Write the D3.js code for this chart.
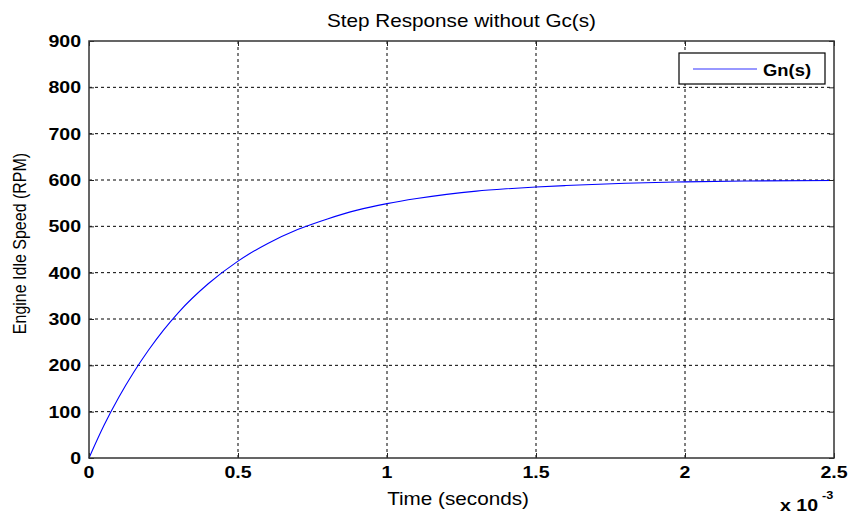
<!DOCTYPE html>
<html>
<head>
<meta charset="utf-8">
<script src="https://cdn.jsdelivr.net/npm/d3@7"></script>
<style>
  body { margin: 0; background: #fff; }
  text { font-family: "Liberation Sans", Arial, sans-serif; fill: #000; }
  .grid line { stroke: #000; stroke-width: 1; stroke-dasharray: 3,3; }
</style>
</head>
<body>
<script>
// size of the picture and of the plot box
var width = 850
var height = 515
var margin = { top: 41, left: 89, right: 16, bottom: 57 }

// time in units of 1e-3 s, speed in RPM
const timeMs = [0, 0.05, 0.1, 0.15, 0.2, 0.25, 0.3, 0.4, 0.5, 0.6, 0.7, 0.8, 0.9, 1.0,
                1.1, 1.2, 1.3, 1.4, 1.5, 1.6, 1.8, 2.0, 2.2, 2.5]
const speedRpm = [0, 70, 131, 185, 233, 276, 314, 376, 425, 463, 493, 516, 535, 549,
                  560, 569, 576, 581, 585, 588, 593, 596, 598, 599]
const xTicks = [0, 0.5, 1, 1.5, 2, 2.5]
const yTicks = [0, 100, 200, 300, 400, 500, 600, 700, 800, 900]
const seriesName = "Gn(s)"

var stretch = 1.15   // the source picture is a bit wider than tall

var svg = d3.select("body").append("svg")
    .attr("width", width)
    .attr("height", height);

var xScale = d3.scaleLinear().domain([0, 2.5]).range([margin.left, width - margin.right]);
var yScale = d3.scaleLinear().domain([0, 900]).range([height - margin.bottom, margin.top]);

function addText(x, y, str, size, weight, anchor) {
    return svg.append("text")
        .attr("transform", "translate(" + x + "," + y + ") scale(" + stretch + ",1)")
        .attr("text-anchor", anchor || "middle")
        .style("font-size", size + "px")
        .style("font-weight", weight || "normal")
        .text(str);
}

function renderGrid() {
    var g = svg.append("g").attr("class", "grid");
    g.selectAll("line.gx")
        .data(xTicks.slice(1, -1))
        .enter().append("line")
        .attr("x1", d => xScale(d)).attr("x2", d => xScale(d))
        .attr("y1", yScale(0)).attr("y2", yScale(900));
    g.selectAll("line.gy")
        .data(yTicks.slice(1, -1))
        .enter().append("line")
        .attr("x1", xScale(0)).attr("x2", xScale(2.5))
        .attr("y1", d => yScale(d)).attr("y2", d => yScale(d));
}

function renderAxes() {
    // inside ticks, matlab style, on all four sides
    var tl = 5;
    var axes = [
        { ax: d3.axisBottom(xScale).tickValues(xTicks), tr: "translate(0," + yScale(0) + ")" },
        { ax: d3.axisTop(xScale).tickValues(xTicks), tr: "translate(0," + yScale(900) + ")" },
        { ax: d3.axisLeft(yScale).tickValues(yTicks), tr: "translate(" + xScale(0) + ",0)" },
        { ax: d3.axisRight(yScale).tickValues(yTicks), tr: "translate(" + xScale(2.5) + ",0)" }
    ];
    axes.forEach(function (a) {
        var g = svg.append("g")
            .attr("transform", a.tr)
            .call(a.ax.tickSize(-tl).tickFormat(""));
        g.select(".domain").remove();
        g.selectAll("line").attr("stroke", "#222");
    });

    svg.append("rect")
        .attr("x", xScale(0)).attr("y", yScale(900))
        .attr("width", xScale(2.5) - xScale(0))
        .attr("height", yScale(0) - yScale(900))
        .attr("fill", "none")
        .attr("stroke", "#333")
        .attr("stroke-width", 1.5);

    xTicks.forEach(function (t) {
        addText(xScale(t), yScale(0) + 20, String(t), 17, "bold");
    });
    yTicks.forEach(function (t) {
        addText(xScale(0) - 8, yScale(t) + 6, String(t), 17, "bold", "end");
    });

    // exponent label
    addText(780, 511, "x 10", 17, "bold", "start");
    addText(822, 499, "-3", 11, "bold", "start");
}

function renderLine() {
    var data = timeMs.map((t, i) => ({ x: t, y: speedRpm[i] }));
    var line = d3.line()
        .x(d => xScale(d.x))
        .y(d => yScale(d.y))
        .curve(d3.curveMonotoneX);
    svg.append("path")
        .datum(data)
        .attr("fill", "none")
        .attr("stroke", "#0000ff")
        .attr("stroke-width", 1.1)
        .attr("d", line);
}

function renderLegend() {
    var lx = 679, ly = 53, lw = 146, lh = 31;
    svg.append("rect")
        .attr("x", lx).attr("y", ly)
        .attr("width", lw).attr("height", lh)
        .attr("fill", "#fff")
        .attr("stroke", "#000")
        .attr("stroke-width", 1.2);
    svg.append("line")
        .attr("x1", lx + 14).attr("x2", lx + 78)
        .attr("y1", ly + 16).attr("y2", ly + 16)
        .attr("stroke", "#3333ff")
        .attr("stroke-width", 1.2);
    addText(lx + 84, ly + 23, seriesName, 16, "bold", "start");
}

function renderLabels() {
    addText((xScale(0) + xScale(2.5)) / 2, 27, "Step Response without Gc(s)", 18);
    addText(458, 505, "Time (seconds)", 18);
    svg.append("text")
        .attr("transform", "translate(26," + ((yScale(0) + yScale(900)) / 2 - 6) + ") rotate(-90) scale(1," + stretch + ")")
        .attr("text-anchor", "middle")
        .style("font-size", "16px")
        .text("Engine Idle Speed (RPM)");
}

renderGrid();
renderLine();
renderAxes();
renderLegend();
renderLabels();
</script>
</body>
</html>
